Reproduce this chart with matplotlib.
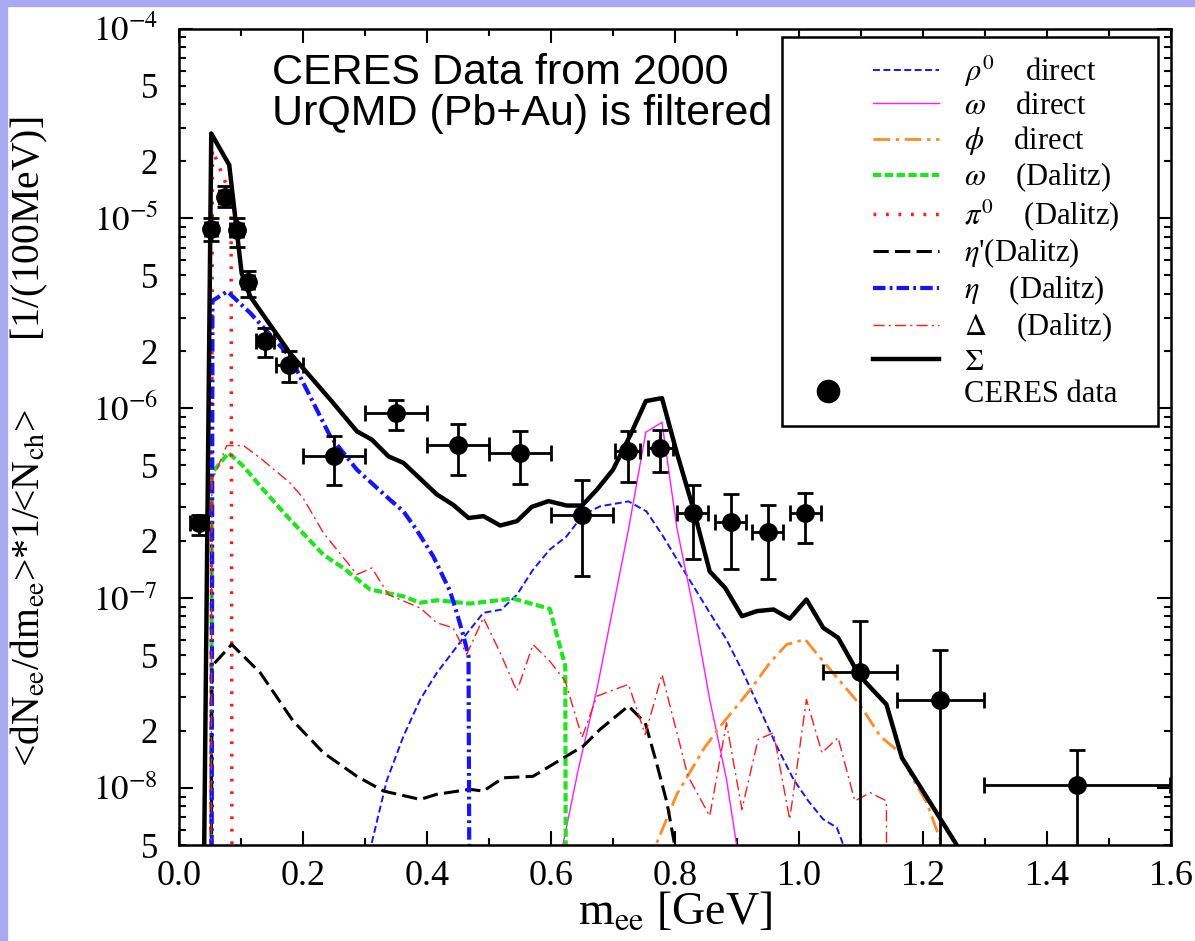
import numpy as np
import matplotlib
matplotlib.use("Agg")
import matplotlib.pyplot as plt
from matplotlib.lines import Line2D
from matplotlib.legend_handler import HandlerBase, HandlerLine2D
from matplotlib.patches import Rectangle
from matplotlib.ticker import LogLocator, FuncFormatter, MultipleLocator

plt.rcParams['font.family'] = ['Liberation Serif', 'DejaVu Serif']
plt.rcParams['mathtext.fontset'] = 'stix'
plt.rcParams['lines.scale_dashes'] = False

# CERES data points (m_ee [GeV], yield, upper/lower error ends, half bin width)
ceres_m = [0.032, 0.052, 0.074, 0.093, 0.111, 0.139, 0.178, 0.250, 0.350, 0.450, 0.550,
           0.650, 0.724, 0.776, 0.829, 0.890, 0.950, 1.010, 1.098, 1.228, 1.448]
ceres_y = [2.47e-7, 8.8e-6, 1.30e-5, 8.7e-6, 4.61e-6, 2.27e-6, 1.68e-6, 5.6e-7, 9.45e-7, 6.43e-7, 5.81e-7,
           2.73e-7, 5.93e-7, 6.16e-7, 2.82e-7, 2.51e-7, 2.22e-7, 2.81e-7, 4.07e-8, 2.92e-8, 1.04e-8]
ceres_hi = [2.75e-7, 1.0e-5, 1.48e-5, 1.01e-5, 5.25e-6, 2.66e-6, 1.99e-6, 7.16e-7, 1.10e-6, 8.28e-7, 7.55e-7,
            4.17e-7, 7.55e-7, 7.7e-7, 3.95e-7, 3.54e-7, 3.1e-7, 3.58e-7, 7.6e-8, 5.3e-8, 1.58e-8]
ceres_lo = [2.16e-7, 7.64e-6, 1.15e-5, 7.1e-6, 3.87e-6, 1.86e-6, 1.38e-6, 3.95e-7, 7.7e-7, 4.47e-7, 4.0e-7,
            1.30e-7, 4.09e-7, 4.6e-7, 1.6e-7, 1.43e-7, 1.26e-7, 1.95e-7, 1e-9, 1e-9, 1e-9]
ceres_dm = [0.014, 0.01, 0.01, 0.01, 0.01, 0.015, 0.022, 0.05, 0.05, 0.05, 0.05,
            0.05, 0.02, 0.02, 0.025, 0.025, 0.025, 0.025, 0.06, 0.07, 0.15]

# UrQMD contributions
sum_m = [0.040, 0.052, 0.081, 0.101, 0.115, 0.179, 0.244, 0.287, 0.311, 0.338, 0.362, 0.416, 0.442,
         0.467, 0.491, 0.518, 0.545, 0.569, 0.596, 0.625, 0.650, 0.674, 0.700, 0.727, 0.753, 0.779,
         0.803, 0.830, 0.856, 0.881, 0.908, 0.932, 0.959, 0.985, 1.012, 1.039, 1.063, 1.098, 1.141,
         1.166, 1.195, 1.252, 1.27]
sum_y = [3e-9, 2.8e-5, 1.91e-5, 5.15e-6, 3.87e-6, 1.95e-6, 1.11e-6, 7.55e-7, 6.83e-7, 5.57e-7, 5.15e-7,
         3.51e-7, 3.1e-7, 2.64e-7, 2.7e-7, 2.41e-7, 2.54e-7, 3.02e-7, 3.24e-7, 3.07e-7, 3.07e-7, 3.72e-7,
         4.74e-7, 7.11e-7, 1.09e-6, 1.13e-6, 5.81e-7, 2.92e-7, 1.38e-7, 1.13e-7, 8.02e-8, 8.53e-8, 8.7e-8,
         7.78e-8, 9.82e-8, 6.97e-8, 6.18e-8, 3.88e-8, 2.75e-8, 1.44e-8, 1.02e-8, 5.15e-9, 4.0e-9]

rho_m = [0.305, 0.311, 0.335, 0.362, 0.389, 0.416, 0.461, 0.491, 0.520, 0.545, 0.571, 0.598, 0.625,
         0.652, 0.679, 0.725, 0.754, 0.781, 0.803, 0.830, 0.856, 0.883, 0.910, 0.937, 0.964, 0.991,
         1.015, 1.039, 1.061, 1.071, 1.075]
rho_y = [4.0e-9, 5.15e-9, 1.09e-8, 1.87e-8, 2.92e-8, 4.04e-8, 6.3e-8, 8.36e-8, 8.69e-8, 1.04e-7, 1.41e-7,
         1.8e-7, 2.11e-7, 2.75e-7, 3.04e-7, 3.23e-7, 2.86e-7, 2.11e-7, 1.6e-7, 1.15e-7, 8.36e-8, 6.05e-8,
         4.04e-8, 2.59e-8, 1.66e-8, 1.11e-8, 8.53e-9, 6.83e-9, 6.18e-9, 5.05e-9, 4.0e-9]

omega_m = [0.613, 0.644, 0.674, 0.725, 0.753, 0.779, 0.803, 0.830, 0.856, 0.883, 0.904]
omega_y = [4.0e-9, 1.25e-8, 3.3e-8, 2.3e-7, 7.47e-7, 8.42e-7, 2.34e-7, 8.69e-8, 2.92e-8, 1.11e-8, 4.0e-9]

phi_m = [0.757, 0.803, 0.846, 0.873, 0.900, 0.926, 0.953, 0.980, 1.010, 1.023, 1.050, 1.098, 1.131,
         1.163, 1.184, 1.206, 1.236]
phi_y = [4.0e-9, 9.25e-9, 1.6e-8, 2.11e-8, 2.7e-8, 3.44e-8, 4.56e-8, 5.69e-8, 6.05e-8, 5.36e-8, 4.21e-8,
         2.75e-8, 1.87e-8, 1.53e-8, 1.11e-8, 8.36e-9, 4.5e-9]

omegad_m = [0.051, 0.053, 0.080, 0.104, 0.136, 0.179, 0.233, 0.265, 0.308, 0.362, 0.389, 0.416, 0.469,
            0.539, 0.598, 0.623, 0.625]
omegad_y = [1e-10, 4.56e-7, 5.81e-7, 4.94e-7, 3.72e-7, 2.59e-7, 1.69e-7, 1.44e-7, 1.11e-7, 1.02e-7,
            9.44e-8, 9.73e-8, 9.35e-8, 9.93e-8, 8.77e-8, 4.38e-8, 1e-10]

pi0_m = [0.050, 0.054, 0.084, 0.086]
pi0_y = [1e-10, 2.3e-5, 1.3e-5, 1e-10]

etap_m = [0.051, 0.053, 0.085, 0.131, 0.184, 0.233, 0.287, 0.330, 0.389, 0.416, 0.469, 0.491, 0.523,
          0.571, 0.625, 0.652, 0.679, 0.725, 0.752, 0.770, 0.787, 0.802]
etap_y = [1e-10, 4.38e-8, 5.69e-8, 4.04e-8, 2.25e-8, 1.53e-8, 1.15e-8, 9.62e-9, 8.69e-9, 9.25e-9,
          9.82e-9, 9.62e-9, 1.13e-8, 1.15e-8, 1.47e-8, 1.66e-8, 2.03e-8, 2.7e-8, 2.2e-8, 1.36e-8,
          8.36e-9, 4.5e-9]

eta_m = [0.052, 0.054, 0.078, 0.115, 0.179, 0.244, 0.287, 0.340, 0.362, 0.383, 0.410, 0.437, 0.448,
         0.459, 0.467, 0.470]
eta_y = [1e-10, 3.68e-6, 4.12e-6, 3.17e-6, 1.87e-6, 7.1e-7, 4.74e-7, 3.3e-7, 2.86e-7, 2.29e-7, 1.66e-7,
         1.09e-7, 8.36e-8, 6.3e-8, 4.94e-8, 1e-10]

delta_m = [0.051, 0.053, 0.077, 0.104, 0.131, 0.147, 0.179, 0.200, 0.233, 0.257, 0.287, 0.311, 0.338,
           0.389, 0.416, 0.442, 0.464, 0.491, 0.518, 0.545, 0.571, 0.598, 0.623, 0.650, 0.674, 0.725,
           0.752, 0.779, 0.821, 0.856, 0.883, 0.908, 0.934, 0.959, 0.985, 1.012, 1.037, 1.063, 1.090,
           1.115, 1.141, 1.142]
delta_y = [1e-10, 4.12e-7, 6.35e-7, 6.35e-7, 5.47e-7, 4.94e-7, 4.04e-7, 3.37e-7, 2.2e-7, 1.76e-7,
           1.33e-7, 1.44e-7, 1.04e-7, 8.87e-8, 7.4e-8, 6.97e-8, 5.05e-8, 7.87e-8, 5.15e-8, 3.23e-8,
           5.69e-8, 4.65e-8, 3.65e-8, 1.84e-8, 3.04e-8, 3.51e-8, 1.91e-8, 3.96e-8, 1.15e-8, 7.1e-9,
           2.2e-8, 7.7e-9, 1.8e-8, 1.95e-8, 6.82e-9, 2.92e-8, 1.53e-8, 1.84e-8, 8.53e-9, 9.44e-9,
           8.53e-9, 1e-10]

fig = plt.figure(figsize=(11.95, 9.41), dpi=100)
fig.patches.append(Rectangle((0, 0), 7 / 1195, 1, transform=fig.transFigure,
                             color='#a9a9f2', zorder=0))
fig.patches.append(Rectangle((0, 1 - 6 / 941), 1, 6 / 941, transform=fig.transFigure,
                             color='#a9a9f2', zorder=0))

ax = fig.add_axes([179 / 1195, 1 - 845 / 941, 992 / 1195, 816.5 / 941])

blue = '#1414ff'
ax.plot(rho_m, rho_y, color=blue, lw=1.4, dashes=(5, 2.5), label=r'$\rho^{\rm 0}$    direct')
ax.plot(omega_m, omega_y, color='#ff1aff', lw=1.0, label=r'$\omega$    direct')
ax.plot(phi_m, phi_y, color='#ff8a26', lw=2.0, dashes=(12, 4, 2.5, 4), label=r'$\phi$    direct')
ax.plot(omegad_m, omegad_y, color='#1ee61e', lw=3.0, dashes=(6, 2.5), label=r'$\omega$    (Dalitz)')
ax.plot(pi0_m, pi0_y, color='#ff1a1a', lw=2.5, dashes=(2, 7), label=r'$\pi^{\rm 0}$    (Dalitz)')
ax.plot(etap_m, etap_y, color='black', lw=2.2, dashes=(11, 4.5), label=r"$\eta$'(Dalitz)")
ax.plot(eta_m, eta_y, color=blue, lw=3.0, dashes=(9, 3, 2, 3), label=r'$\eta$    (Dalitz)')
ax.plot(delta_m, delta_y, color='#ff1a1a', lw=1.0, dashes=(8, 3, 1.5, 3), label=r'$\Delta$    (Dalitz)')
ax.plot(sum_m, sum_y, color='black', lw=3.2, label=r'$\Sigma$')

y_arr = np.array(ceres_y)
yerr = [y_arr - np.array(ceres_lo), np.array(ceres_hi) - y_arr]
ax.errorbar(ceres_m, ceres_y, xerr=ceres_dm, yerr=yerr, fmt='o', color='black', ms=12.5,
            elinewidth=2, capsize=6, capthick=2, zorder=5)
data_handle = Line2D([], [], marker='o', ls='none', color='black', ms=16)

ax.set_yscale('log')
ax.set_xlim(0, 1.6)
ax.set_ylim(5e-9, 1e-4)

ax.yaxis.set_major_locator(LogLocator(base=10, subs=(1.0,)))
ax.yaxis.set_minor_locator(LogLocator(base=10, subs=np.arange(2, 10)))
ax.yaxis.set_major_formatter(FuncFormatter(lambda v, p: r'$10^{%d}$' % round(np.log10(v))))


def minor_fmt(v, p):
    lead = round(v / 10 ** np.floor(np.log10(v) + 1e-9))
    return str(lead) if lead in (2, 5) else ''


ax.yaxis.set_minor_formatter(FuncFormatter(minor_fmt))
ax.xaxis.set_major_locator(MultipleLocator(0.2))
ax.xaxis.set_minor_locator(MultipleLocator(0.1))
ax.xaxis.set_major_formatter(FuncFormatter(lambda v, p: '%.1f' % v))

ax.tick_params(which='both', direction='in', top=True, right=True, width=1.5)
ax.tick_params(which='major', length=10)
ax.tick_params(which='minor', length=5)
ax.tick_params(axis='x', which='both', labelsize=26, pad=11)
ax.tick_params(axis='y', which='both', labelsize=25, pad=15)
for sp in ax.spines.values():
    sp.set_linewidth(1.8)

ax.set_xlabel(r'm$_{\rm ee}$ [GeV]', fontsize=33, labelpad=-2)
ax.set_ylabel(r'<dN$_{\rm ee}$/dm$_{\rm ee}$>*1/<N$_{\rm ch}$>       [1/(100MeV)]',
              fontsize=28.5)
ax.yaxis.set_label_coords(-0.130, 0.494)

ax.text(0.094, 0.970, 'CERES Data from 2000\nUrQMD (Pb+Au) is filtered', transform=ax.transAxes,
        fontsize=31, family='Liberation Sans', va='top', ha='left', linespacing=1.04)


class RightLine(HandlerLine2D):
    # line sample drawn in the right part of the handle box
    def get_xdata(self, legend, xdescent, ydescent, width, height, fontsize):
        xd = np.array([-xdescent + 0.53 * width, -xdescent + width])
        return xd, xd


class MarkerLeft(HandlerBase):
    def create_artists(self, legend, orig_handle, xdescent, ydescent, width, height, fontsize, trans):
        m = Line2D([-xdescent + 0.205 * width], [height / 2 - ydescent], marker='o', ls='none',
                   color='black', ms=16, transform=trans)
        return [m]


handles, labels = ax.get_legend_handles_labels()
handles.append(data_handle)
labels.append('CERES data')
leg = ax.legend(handles, labels, loc='upper left', bbox_to_anchor=(0.608, 0.5, 0.379, 0.49),
                mode='expand', fontsize=22,
                frameon=True, fancybox=False, edgecolor='black', framealpha=1,
                handlelength=4.6, handletextpad=0.8, labelspacing=0.11, borderpad=0.55,
                borderaxespad=0, handler_map={Line2D: RightLine(), data_handle: MarkerLeft()})
leg.get_frame().set_linewidth(1.8)

fig.savefig('out.png', dpi=100)
